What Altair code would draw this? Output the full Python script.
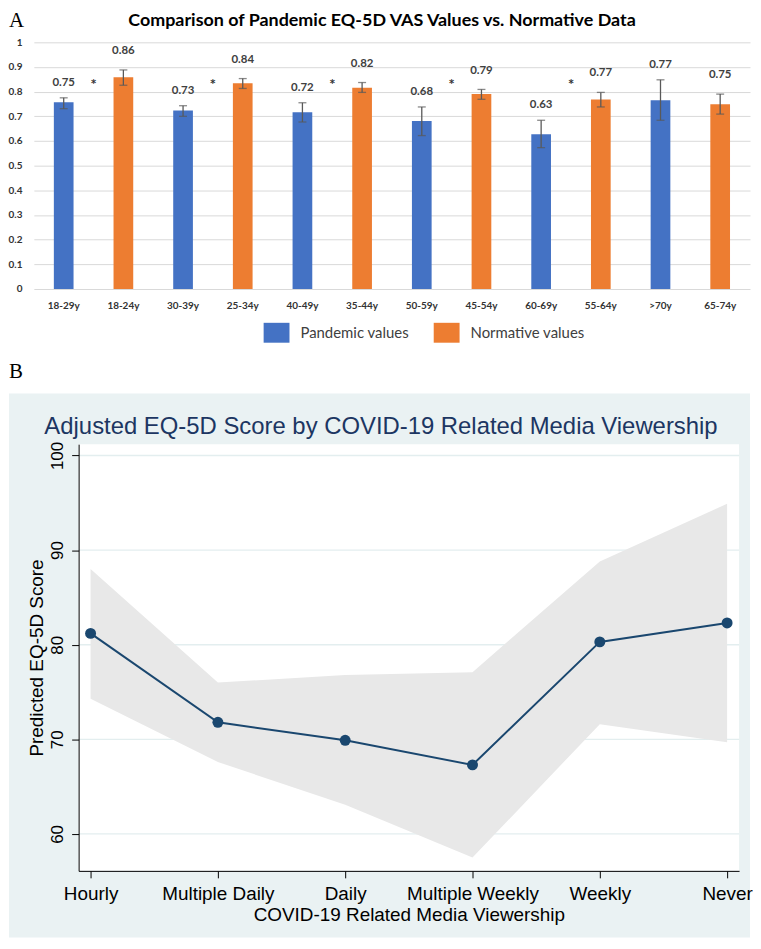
import altair as alt
import pandas as pd

# ---------------- Panel A data ----------------
age_groups = ["18-29y", "18-24y", "30-39y", "25-34y", "40-49y", "35-44y",
              "50-59y", "45-54y", "60-69y", "55-64y", ">70y", "65-74y"]
series_names = ["Pandemic values", "Normative values"]
series = ["Pandemic values", "Normative values"] * 6
vas_values = [0.757, 0.858, 0.724, 0.834, 0.716, 0.816,
              0.681, 0.790, 0.627, 0.768, 0.765, 0.749]
err_low = [0.731, 0.826, 0.700, 0.813, 0.677, 0.797,
           0.622, 0.769, 0.573, 0.738, 0.684, 0.709]
err_high = [0.775, 0.888, 0.743, 0.853, 0.755, 0.837,
            0.738, 0.809, 0.684, 0.797, 0.848, 0.790]
value_labels = ["0.75", "0.86", "0.73", "0.84", "0.72", "0.82",
                "0.68", "0.79", "0.63", "0.77", "0.77", "0.75"]
sig_groups = ["18-29y", "30-39y", "40-49y", "50-59y", "60-69y"]
vas_ticks = [0, 0.1, 0.2, 0.3, 0.4, 0.5, 0.6, 0.7, 0.8, 0.9, 1]
title_A = "Comparison of Pandemic EQ-5D VAS Values vs.  Normative Data"

# ---------------- Panel B data ----------------
media_freq = ["Hourly", "Multiple Daily", "Daily", "Multiple Weekly", "Weekly", "Never"]
pred_score = [81.2, 71.8, 69.9, 67.3, 80.3, 82.3]
ci_low = [74.3, 67.6, 63.1, 57.5, 71.6, 69.7]
ci_high = [88.0, 76.0, 76.8, 77.1, 88.8, 94.9]
score_ticks = [60, 70, 80, 90, 100]
title_B = "Adjusted EQ-5D Score by COVID-19 Related Media Viewership"

# ---------------- Panel A ----------------
WA, HA = 720, 248
dfA = pd.DataFrame({"age": age_groups, "series": series, "value": vas_values,
                    "lo": err_low, "hi": err_high, "label": value_labels})

xA_scale = alt.Scale(paddingInner=0.67, paddingOuter=0.335)
yA_scale = alt.Scale(domain=[0, 1], nice=False)
xA_axis = alt.Axis(title=None, labelAngle=0, labelFont="Lato",
                   labelFontWeight="bold", labelFontSize=10,
                   labelColor="#333333", labelPadding=12,
                   ticks=False, domain=False, grid=False)
yA_axis = alt.Axis(title=None, values=vas_ticks, format=".1~f",
                   labelFont="Lato", labelFontWeight="bold",
                   labelFontSize=10, labelColor="#333333",
                   labelPadding=12, labelOverlap=False,
                   grid=True, gridColor="#D9D9D9",
                   gridWidth=1, domain=False, ticks=False)
xA = alt.X("age:N", sort=age_groups, scale=xA_scale, axis=xA_axis)


def yA(field):
    return alt.Y(field, type="quantitative", scale=yA_scale, axis=yA_axis)


baseA = alt.Chart(dfA)
bars = baseA.mark_bar().encode(
    x=xA, y=yA("value"),
    color=alt.Color("series:N", sort=series_names,
                    scale=alt.Scale(domain=series_names, range=["#4472C4", "#ED7D31"]),
                    legend=alt.Legend(title=None, orient="none", legendX=234, legendY=282,
                                      direction="horizontal",
                                      symbolType="M-1.3,-1H1.3V1H-1.3Z",
                                      symbolSize=400, symbolStrokeWidth=0,
                                      labelFont="Lato", labelFontSize=15,
                                      labelColor="#404040", labelOffset=14,
                                      columnPadding=24, padding=0)))
err_rule = baseA.mark_rule(color="#595959", strokeWidth=1.3).encode(
    x=xA, y=yA("lo"), y2="hi:Q")
cap_lo = baseA.mark_tick(color="#595959", size=8, thickness=1.3).encode(
    x=xA, y=yA("lo"))
cap_hi = baseA.mark_tick(color="#595959", size=8, thickness=1.3).encode(
    x=xA, y=yA("hi"))
lab_p = baseA.transform_filter(alt.datum.series == "Pandemic values").mark_text(
    font="Lato", fontWeight="bold", fontSize=11.5, color="#404040",
    baseline="middle", dy=-15).encode(x=xA, y=yA("hi"), text="label:N")
lab_n = baseA.transform_filter(alt.datum.series == "Normative values").mark_text(
    font="Lato", fontWeight="bold", fontSize=11.5, color="#404040",
    baseline="middle", dy=-19).encode(x=xA, y=yA("hi"), text="label:N")
stars = alt.Chart(pd.DataFrame({"age": sig_groups, "sig": [0.845] * 5})).mark_text(
    text="*", font="DejaVu Sans", fontWeight="bold", fontSize=10, color="#333333",
    dx=30, baseline="middle", dy=3).encode(x=xA, y=yA("sig"))
titleA_mark = alt.Chart(alt.Data(values=[{"t": title_A}])).mark_text(
    font="Lato", fontSize=18, fontWeight="bold", color="#000000",
    align="center", baseline="middle").encode(
    x=alt.value(350), y=alt.value(-21), text="t:N")
letterA = alt.Chart(alt.Data(values=[{"t": "A"}])).mark_text(
    font="Liberation Serif", fontSize=21, align="left", baseline="alphabetic",
    color="#000000").encode(x=alt.value(-25), y=alt.value(-15), text="t:N")

panelA = alt.layer(bars, err_rule, cap_lo, cap_hi, lab_p, lab_n, stars,
                   titleA_mark, letterA).properties(width=WA, height=HA)

# ---------------- Panel B ----------------
# group spans page x 33..742; plot (white) area spans 45..709 inside it
WB, HB = 709, 429
PL = 45
dfB = pd.DataFrame({"freq": media_freq, "pred": pred_score, "lo": ci_low, "hi": ci_high})
yB_scale = alt.Scale(domain=[56.1, 101.2], nice=False, zero=False)
xB_scale = alt.Scale(type="point", padding=0.094, range=[PL, WB])

xB_axis = alt.Axis(title="COVID-19 Related Media Viewership", labelAngle=0,
                   labelFont="Liberation Sans", labelFontSize=19, labelColor="#000000",
                   labelPadding=7, tickSize=7, tickColor="#000000", tickWidth=1,
                   domainColor="#000000", domainWidth=1, grid=False,
                   titleFont="Liberation Sans", titleFontSize=19,
                   titleFontWeight="normal", titleColor="#000000",
                   titlePadding=2, titleX=(PL + WB) / 2, zindex=1)
yB_axis = alt.Axis(title="Predicted EQ-5D Score", values=score_ticks,
                   labelAngle=-90, labelAlign="center", labelBaseline="bottom",
                   labelFont="Liberation Sans", labelFontSize=17, labelColor="#000000",
                   labelPadding=5, tickSize=7, tickColor="#000000", tickWidth=1,
                   domainColor="#000000", domainWidth=1, grid=False,
                   titleFont="Liberation Sans", titleFontSize=19,
                   titleFontWeight="normal", titleColor="#000000",
                   titlePadding=2, offset=-PL, zindex=1)
xB = alt.X("freq:N", sort=media_freq, scale=xB_scale, axis=xB_axis)


def yB(field):
    return alt.Y(field, type="quantitative", scale=yB_scale, axis=yB_axis)


one = alt.Data(values=[{"t": "B"}])
bg = alt.Chart(one).mark_rect(color="#EAF2F3").encode(
    x=alt.value(-25), x2=alt.value(720), y=alt.value(-51), y2=alt.value(496))
plot_bg = alt.Chart(one).mark_rect(color="#FFFFFF").encode(
    x=alt.value(PL), x2=alt.value(WB), y=alt.value(0), y2=alt.value(HB))
grid = alt.Chart(pd.DataFrame({"g": score_ticks})).mark_rule(
    color="#E3EEEF", strokeWidth=1.3).encode(
    y=yB("g"), x=alt.value(PL), x2=alt.value(WB))
band = alt.Chart(dfB).mark_area(color="#E8E8E8", opacity=1).encode(
    x=xB, y=yB("lo"), y2="hi:Q")
line = alt.Chart(dfB).mark_line(color="#1A476F", strokeWidth=2).encode(
    x=xB, y=yB("pred"))
pts = alt.Chart(dfB).mark_circle(color="#1A476F", size=121, opacity=1).encode(
    x=xB, y=yB("pred"))
titleB_mark = alt.Chart(alt.Data(values=[{"t": title_B}])).mark_text(
    font="Liberation Sans", fontSize=24, color="#1C3662",
    align="center", baseline="middle").encode(
    x=alt.value(349), y=alt.value(-17), text="t:N")
letterB = alt.Chart(one).mark_text(
    font="Liberation Serif", fontSize=21, align="left", baseline="alphabetic",
    color="#000000").encode(x=alt.value(-25), y=alt.value(-67), text="t:N")

panelB = alt.layer(bg, plot_bg, grid, band, line, pts, titleB_mark, letterB).properties(
    width=WB, height=HB)

chart = alt.vconcat(panelA, panelB, spacing=50).properties(
    padding=0, background="#FFFFFF"
).configure_view(strokeWidth=0)

chart.save("out.html", embed_options={"renderer": "svg", "actions": False})
